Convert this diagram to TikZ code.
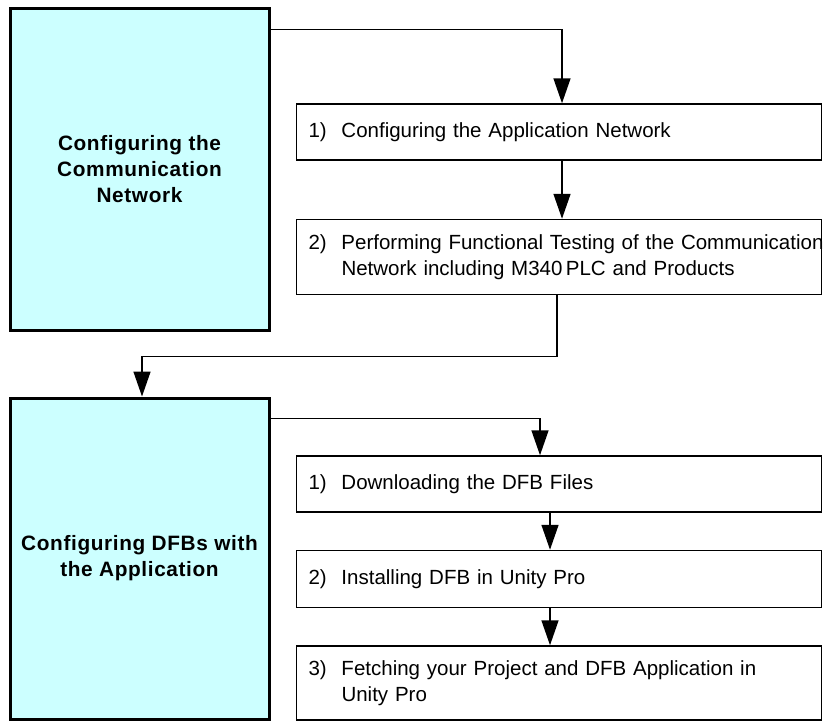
\documentclass[tikz,border=0pt]{standalone}
\usepackage{fontspec}
\setmainfont{Liberation Sans}
\usepackage{tikz}
\usetikzlibrary{positioning,arrows.meta}
\definecolor{phasecyan}{HTML}{CCFFFF}
\tikzset{
  phase/.style={draw, line width=3pt, fill=phasecyan, minimum width=259pt, align=center,
    font=\fontsize{20.8}{26}\selectfont\bfseries\addfontfeature{LetterSpace=3}},
  stepbox/.style={draw, line width=1.5pt, text width=501pt, inner xsep=12pt, inner ysep=0pt,
    align=left, font=\fontsize{20.5}{26}\selectfont},
  flow/.style={line width=1.5pt, -{Triangle[length=25pt,width=17pt]}}
}
\newcommand{\stepitem}[2]{\begin{tabular}{@{}p{33pt}@{}l@{}}#1&\begin{tabular}[t]{@{}l@{}}#2\end{tabular}\end{tabular}}

\begin{document}
\begin{tikzpicture}[x=1pt, y=-1pt]
    \useasboundingbox (0,0) rectangle (826,720);

    \node[phase, minimum height=322pt] (comm) at (139.5,169) {Configuring the\\Communication\\Network};
    \node[phase, minimum height=321pt] (dfbs) at (139.5,558.5) {Configuring DFBs with\\the Application};

    \node[stepbox, minimum height=56pt] (appnet) at (559,132) {\stepitem{1)}{Configuring the Application Network}};
    \node[stepbox, minimum height=75pt, below=58pt of appnet] (funtest) {\stepitem{2)}{Performing Functional Testing of the Communication\\Network including M340\,PLC and Products}};
    \node[stepbox, minimum height=56pt] (download) at (559,484) {\stepitem{1)}{Downloading the DFB Files}};
    \node[stepbox, minimum height=57pt, below=37pt of download] (install) {\stepitem{2)}{Installing DFB in Unity Pro}};
    \node[stepbox, minimum height=74pt, below=37pt of install] (fetch) {\stepitem{3)}{Fetching your Project and DFB Application in\\Unity Pro}};

    \draw[flow] ([yshift=-23pt]comm.north east) -| ([xshift=3pt]appnet.north);
    \draw[flow] ([xshift=3pt]appnet.south) -- ([xshift=3pt]funtest.north);
    \draw[flow] ([xshift=-2pt]funtest.south) |- ([xshift=2.5pt,yshift=40pt]dfbs.north) -- ([xshift=2.5pt]dfbs.north);
    \draw[flow] ([yshift=-22pt]dfbs.north east) -| ([xshift=-19pt]download.north);
    \draw[flow] ([xshift=-9pt]download.south) -- ([xshift=-9pt]install.north);
    \draw[flow] ([xshift=-9pt]install.south) -- ([xshift=-9pt]fetch.north);
\end{tikzpicture}
\end{document}
